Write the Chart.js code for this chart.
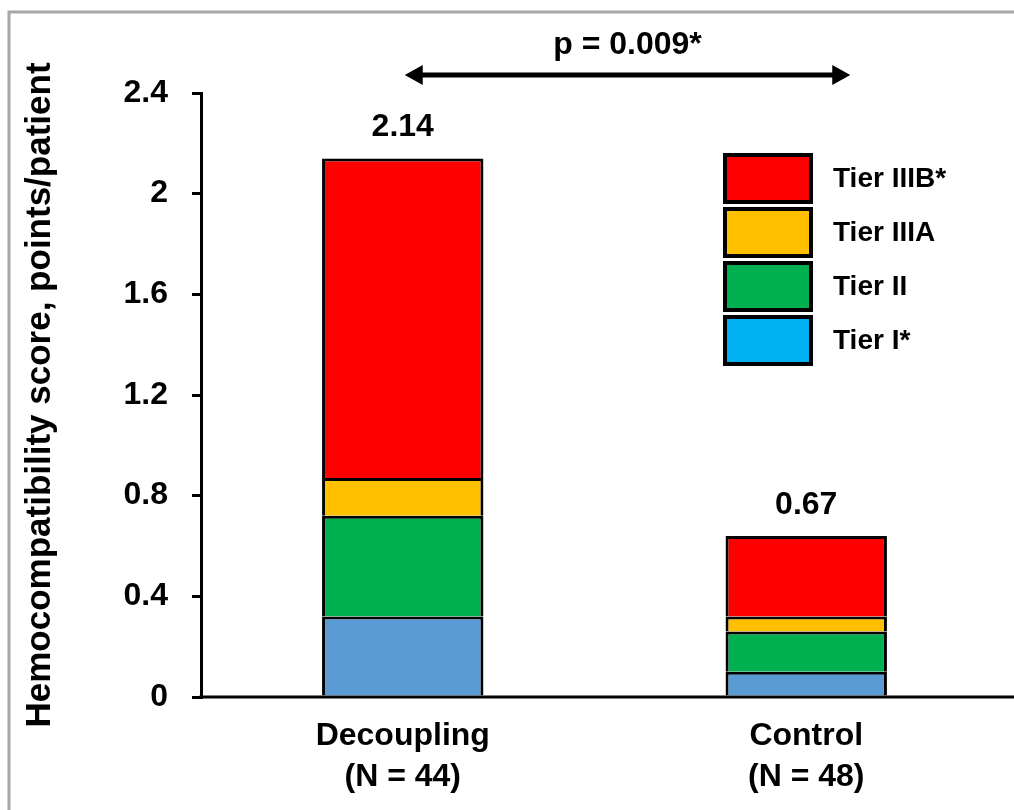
<!DOCTYPE html>
<html>
<head>
<meta charset="utf-8">
<script src="https://cdn.jsdelivr.net/npm/chart.js@4.4.0/dist/chart.umd.min.js"></script>
<style>
body{margin:0;background:#fff}
#wrap{width:1014px;height:810px;position:relative}
</style>
</head>
<body>
<div id="wrap"><canvas id="hemo_chart"></canvas></div>
<script>
let groups = [["Decoupling", "(N = 44)"], ["Control", "(N = 48)"]]
let tierNames = ["Tier I*", "Tier II", "Tier IIIA", "Tier IIIB*"]
let tierI = [0.32, 0.10]
let tierII = [0.40, 0.16]
let tierIIIA = [0.15, 0.06]
let tierIIIB = [1.27, 0.32]
let totalLabels = ["2.14", "0.67"]
let pText = "p = 0.009*"
let barColors = ["#5b9bd5", "#00b050", "#ffc000", "#ff0000"]
let legendColors = ["#00b0f0", "#00b050", "#ffc000", "#ff0000"]
let fontFam = "'Liberation Sans', Arial, sans-serif"

let tiers = [tierI, tierII, tierIIIA, tierIIIB]
let datasets = tiers.map(function(vals, i){
    return {
        label: tierNames[i],
        data: vals,
        backgroundColor: barColors[i],
        borderColor: "#000",
        borderWidth: 3,
        barPercentage: 0.4,
        categoryPercentage: 1
    }
})

// frame, totals, p-value arrow and the big legend boxes
let extras = {
    id: "extras",
    beforeDraw: function(chart){
        let ctx = chart.ctx
        ctx.save()
        ctx.fillStyle = "#fff"
        ctx.fillRect(0, 0, chart.width, chart.height)
        ctx.strokeStyle = "#a6a6a6"
        ctx.lineWidth = 3
        ctx.beginPath()
        ctx.moveTo(9, chart.height)
        ctx.lineTo(9, 12)
        ctx.lineTo(chart.width, 12)
        ctx.stroke()
        ctx.restore()
    },
    afterDraw: function(chart){
        let ctx = chart.ctx
        let x = chart.scales.x
        let y = chart.scales.y
        let area = chart.chartArea
        ctx.save()
        // x axis line, running on to the right edge
        ctx.strokeStyle = "#000"
        ctx.lineWidth = 3
        ctx.beginPath()
        ctx.moveTo(area.left - 1.5, area.bottom)
        ctx.lineTo(chart.width, area.bottom)
        ctx.stroke()

        ctx.fillStyle = "#000"
        ctx.textAlign = "center"
        ctx.textBaseline = "middle"
        ctx.font = "bold 32px " + fontFam
        for (let i = 0; i < groups.length; i++){
            let total = 0
            tiers.forEach(function(t){ total += t[i] })
            ctx.fillText(totalLabels[i], x.getPixelForValue(i), y.getPixelForValue(total) - 31)
        }

        // arrow between the groups
        let ay = area.top - 18
        let x0 = x.getPixelForValue(0) + 2
        let x1 = x.getPixelForValue(1) + 44
        ctx.lineWidth = 5
        ctx.beginPath()
        ctx.moveTo(x0 + 10, ay)
        ctx.lineTo(x1 - 10, ay)
        ctx.stroke()
        ctx.beginPath()
        ctx.moveTo(x0, ay); ctx.lineTo(x0 + 18, ay - 10); ctx.lineTo(x0 + 18, ay + 10); ctx.closePath()
        ctx.moveTo(x1, ay); ctx.lineTo(x1 - 18, ay - 10); ctx.lineTo(x1 - 18, ay + 10); ctx.closePath()
        ctx.fill()
        ctx.fillText(pText, (x0 + x1) / 2, ay - 30)

        // legend, top tier first
        ctx.font = "bold 28px " + fontFam
        ctx.textAlign = "left"
        ctx.lineWidth = 4
        for (let k = 0; k < tierNames.length; k++){
            let idx = tierNames.length - 1 - k
            let by = 155 + k * 54
            ctx.fillStyle = legendColors[idx]
            ctx.fillRect(725, by, 86, 47)
            ctx.strokeRect(725, by, 86, 47)
            ctx.fillStyle = "#000"
            ctx.fillText(tierNames[idx], 833, by + 24)
        }
        ctx.restore()
    }
}

Chart.defaults.font.family = fontFam
Chart.defaults.color = "#000"

new Chart("hemo_chart", {
    type: "bar",
    data: {
        labels: groups,
        datasets: datasets
    },
    options: {
        responsive: true,
        maintainAspectRatio: false,
        animation: false,
        layout: {padding: {top: 93, right: 6, bottom: 0, left: 0}},
        plugins: {
            legend: {display: false},
            tooltip: {enabled: false}
        },
        scales: {
            x: {
                stacked: true,
                afterFit: function(scale){ scale.height = 113 },
                grid: {display: false, drawTicks: false},
                border: {display: false},
                ticks: {
                    padding: 18,
                    font: {size: 32, weight: "bold", lineHeight: 1.3}
                }
            },
            y: {
                stacked: true,
                min: 0,
                max: 2.4,
                afterFit: function(scale){ scale.width = 201 },
                grid: {drawOnChartArea: false, color: "#000", lineWidth: 3, tickLength: 9},
                border: {color: "#000", width: 3},
                ticks: {
                    stepSize: 0.4,
                    padding: 24,
                    font: {size: 32, weight: "bold"},
                    callback: function(v){ return String(Number(v.toFixed(1))) }
                },
                title: {
                    display: true,
                    text: "Hemocompatibility score, points/patient",
                    font: {size: 35, weight: "bold"},
                    padding: {top: 19, bottom: 0}
                }
            }
        }
    },
    plugins: [extras]
});
</script>
</body>
</html>
